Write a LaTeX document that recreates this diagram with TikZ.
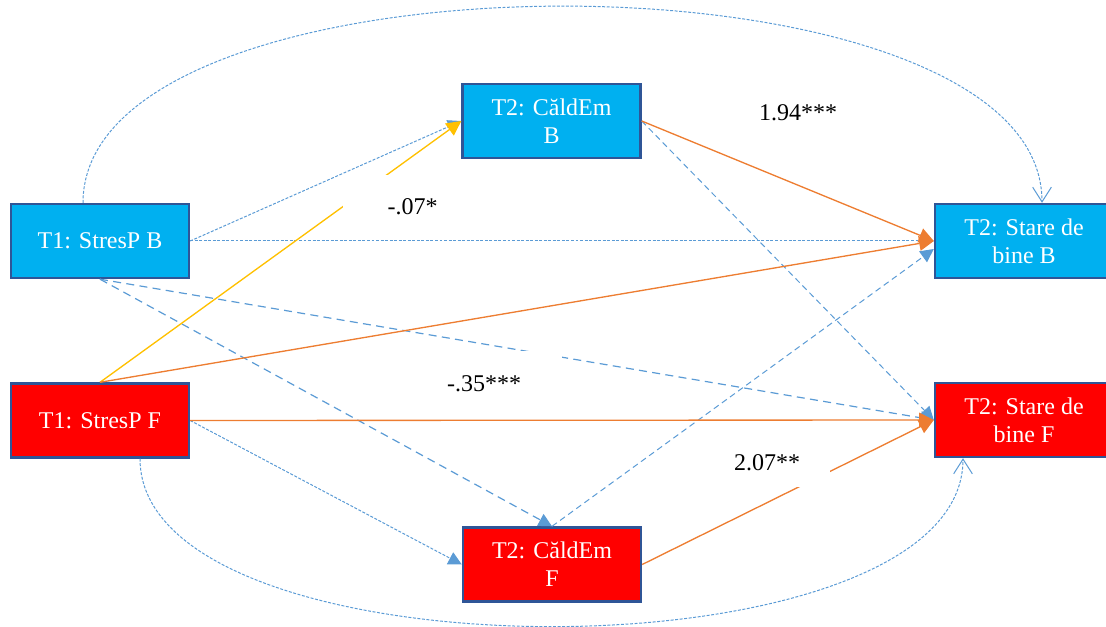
\documentclass[tikz,border=0pt]{standalone}
\usepackage{fontspec}
\setmainfont{Liberation Serif}
\usetikzlibrary{arrows.meta,calc}
\definecolor{boxblue}{HTML}{00B0F0}
\definecolor{boxred}{HTML}{FF0000}
\definecolor{boxedge}{HTML}{2F5597}
\definecolor{linkblue}{HTML}{5B9BD5}
\definecolor{linkorange}{HTML}{ED7D31}
\definecolor{linkyellow}{HTML}{FFC000}
\begin{document}
\begin{tikzpicture}[x=0.75pt,y=-0.75pt,
  var/.style={draw=boxedge,line width=1.8pt,minimum width=133.5pt,minimum height=55.5pt,
    inner sep=0pt,align=center,text=white,font=\fontsize{18}{21}\selectfont},
  bvar/.style={var,fill=boxblue},
  rvar/.style={var,fill=boxred},
  solidlink/.style={line width=1pt,-{Triangle[length=11pt,width=11pt]}},
  olink/.style={solidlink,draw=linkorange},
  ylink/.style={solidlink,draw=linkyellow},
  blink/.style={draw=linkblue,line width=0.75pt,-{Triangle[length=10pt,width=10pt]}},
  dshort/.style={dash pattern=on 2.2pt off 1.2pt},
  dmid/.style={dash pattern=on 4.5pt off 3pt},
  dlong/.style={dash pattern=on 6pt off 4pt,line width=0.9pt},
  covlink/.style={draw=linkblue,line width=0.75pt,dshort,-{Straight Barb[length=11pt,width=14pt]}},
  coef/.style={fill=white,inner sep=0pt,font=\fontsize{18}{21}\selectfont}
]
\useasboundingbox (0,0) rectangle (1106,627);

% variables
\node[bvar] (spb) at (100,241)     {T1: StresP B};
\node[rvar] (spf) at (100,420.5)   {T1: StresP F};
\node[bvar] (ceb) at (551.5,121)   {T2: CăldEm\\B};
\node[rvar] (cef) at (552,564.5)   {T2: CăldEm\\F};
\node[bvar] (sbb) at (1024,241)    {T2: Stare de\\bine B};
\node[rvar] (sbf) at (1024,420)    {T2: Stare de\\bine F};

% covariance arcs
\draw[covlink] ($(spb.north)+(-17,0)$) .. controls +(0,-262) and +(0,-262) .. ($(sbb.north)+(18,0)$);
\draw[covlink] ($(spf.south)+(40,0)$) .. controls +(0,224) and +(0,224) .. ($(sbf.south)+(-61,0)$);

% dashed paths
\draw[blink,dshort] (spb.east) -- (ceb.west);
\draw[blink,dshort] (spb.east) -- (sbb.west);
\draw[blink,dlong]  (spb.south) -- (cef.north);
\draw[blink,dlong]  (spb.south) -- (sbf.west);
\draw[blink,dshort] (spf.east) -- (cef.west);
\draw[blink,dmid]   (ceb.east) -- (sbf.west);
\draw[blink,dmid]   (cef.north) -- ($(sbb.west)+(0,8)$);

% solid paths
\draw[ylink] (spf.north) -- (ceb.west);
\draw[olink] (spf.north) -- (sbb.west);
\draw[olink] (spf.east) -- (sbf.west);
\draw[olink] (ceb.east) -- (sbb.west);
\draw[olink] (cef.east) -- (sbf.west);

% coefficients
\node[coef] (c194) at (798,113) {1.94***};
\node[coef,minimum width=105pt,minimum height=47.25pt] (c07) at (412.5,206.5) {-.07*};
\node[coef,minimum width=117pt,minimum height=48.75pt] (c35) at (484,383.5) {-.35***};
\node[coef,minimum width=94.5pt,minimum height=36pt] (c207) at (767,463) {2.07**};
\end{tikzpicture}
\end{document}
